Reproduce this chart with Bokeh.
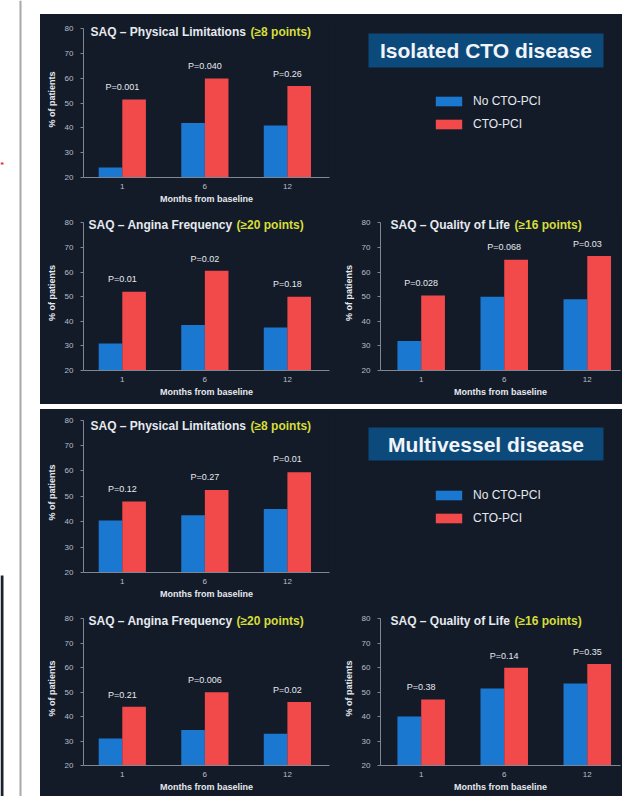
from bokeh.plotting import figure
from bokeh.layouts import row, column
from bokeh.models import (Range1d, FixedTicker, Label, Legend, LegendItem,
                          BoxAnnotation, Span, Spacer, ColumnDataSource)
from bokeh.transform import dodge
from bokeh.embed import file_html
from bokeh.resources import INLINE
from bokeh.core.properties import value

# ---------------- data ----------------
months = ["1", "6", "12"]
legend_labels = ["No CTO-PCI", "CTO-PCI"]
panel_titles = ["Isolated CTO disease", "Multivessel disease"]
chart_titles = ["SAQ \u2013 Physical Limitations", "SAQ \u2013 Angina Frequency", "SAQ \u2013 Quality of Life"]
chart_thresholds = ["(\u22658 points)", "(\u226520 points)", "(\u226516 points)"]
y_ticks = [20, 30, 40, 50, 60, 70, 80]
x_axis_label = "Months from baseline"
y_axis_label = "% of patients"

# Isolated CTO disease
iso_pl_no = [24, 42, 41]
iso_pl_cto = [51.5, 60, 57]
iso_pl_p = ["P=0.001", "P=0.040", "P=0.26"]
iso_af_no = [31, 38.5, 37.5]
iso_af_cto = [52, 60.5, 50]
iso_af_p = ["P=0.01", "P=0.02", "P=0.18"]
iso_qol_no = [32, 50, 49]
iso_qol_cto = [50.5, 65, 66.5]
iso_qol_p = ["P=0.028", "P=0.068", "P=0.03"]

# Multivessel disease
mv_pl_no = [40.5, 42.5, 45]
mv_pl_cto = [48, 52.5, 59.5]
mv_pl_p = ["P=0.12", "P=0.27", "P=0.01"]
mv_af_no = [31, 34.5, 33]
mv_af_cto = [44, 50, 46]
mv_af_p = ["P=0.21", "P=0.006", "P=0.02"]
mv_qol_no = [40, 51.5, 53.5]
mv_qol_cto = [47, 60, 61.5]
mv_qol_p = ["P=0.38", "P=0.14", "P=0.35"]

# ---------------- style ----------------
BG = "#131b29"
BLUE = "#1b78d0"
RED = "#f24a4a"
YELLOW = "#d6de3a"
AXIS = "#7e8794"
TXT = "#e6e9ee"
TICK = "#b9bec7"
BOX = "#0c4a7c"
FONT = "Liberation Sans"
Y_LO, Y_HI = 20, 83


def make_chart(no, cto, pv, t, w, h, bl, br, bt, bb, xs, xe, tdx, ydx, tdy):
    p = figure(width=w, height=h, x_range=Range1d(xs, xe), y_range=Range1d(Y_LO, Y_HI),
               min_border_left=bl, min_border_right=br, min_border_top=bt, min_border_bottom=bb,
               toolbar_location=None, output_backend="svg",
               background_fill_color=BG, border_fill_color=None, outline_line_color=None,
               styles={"background-color": BG})
    src = ColumnDataSource(dict(x=list(range(len(months))), no=no, cto=cto, pv=pv,
                                py=[max(a, b) + 5 for a, b in zip(no, cto)]))
    p.vbar(x=dodge("x", -0.143), top="no", bottom=Y_LO, width=0.286,
           source=src, fill_color=BLUE, line_color=None)
    p.vbar(x=dodge("x", 0.143), top="cto", bottom=Y_LO, width=0.286,
           source=src, fill_color=RED, line_color=None)
    p.text(x="x", y="py", text="pv", source=src, text_align="center", text_baseline="middle",
           text_font=value(FONT), text_font_size="9px", text_color=TXT)
    p.grid.visible = False
    for ax in (p.xaxis, p.yaxis):
        ax.axis_line_color = AXIS
        ax.axis_line_width = 1
        ax.minor_tick_line_color = None
        ax.major_label_text_font = FONT
        ax.major_label_text_color = TICK
        ax.major_label_text_font_size = "8px"
        ax.axis_label_text_font = FONT
        ax.axis_label_text_font_style = "bold"
        ax.axis_label_text_font_size = "9px"
        ax.axis_label_text_color = TXT
    p.xaxis.ticker = FixedTicker(ticks=list(range(len(months))))
    p.xaxis.major_label_overrides = {i: m for i, m in enumerate(months)}
    p.xaxis.major_tick_line_color = None
    p.xaxis.major_tick_out = 0
    p.xaxis.major_tick_in = 0
    p.xaxis.major_label_standoff = 6
    p.xaxis.axis_label = x_axis_label
    p.xaxis.axis_label_standoff = 2
    p.yaxis.ticker = FixedTicker(ticks=y_ticks)
    p.yaxis.bounds = (y_ticks[0], y_ticks[-1])
    p.yaxis.major_tick_line_color = AXIS
    p.yaxis.major_tick_out = 3
    p.yaxis.major_tick_in = 0
    p.yaxis.major_label_standoff = 7
    p.yaxis.axis_label = y_axis_label
    p.yaxis.axis_label_standoff = 5
    p.add_layout(Label(x=xs, y=y_ticks[-1], x_offset=tdx, y_offset=tdy, text=chart_titles[t],
                       text_baseline="middle", text_font=FONT, text_font_style="bold",
                       text_font_size="12px", text_color=TXT))
    p.add_layout(Label(x=xs, y=y_ticks[-1], x_offset=ydx, y_offset=tdy, text=chart_thresholds[t],
                       text_baseline="middle", text_font=FONT, text_font_style="bold",
                       text_font_size="12px", text_color=YELLOW))
    return p, src


def make_side(k, src, w, h, bt, bb, box_top, box_bottom, leg_y):
    # frame is aligned with the neighbouring chart; y data = pixels above the frame bottom
    fh = h - bt - bb
    p = figure(width=w, height=h, x_range=Range1d(0, w), y_range=Range1d(0, fh),
               x_axis_location=None, y_axis_location=None,
               min_border_left=0, min_border_right=0, min_border_top=bt, min_border_bottom=bb,
               toolbar_location=None, output_backend="svg",
               background_fill_color=BG, border_fill_color=None, outline_line_color=None,
               styles={"background-color": BG})
    p.grid.visible = False
    p.add_layout(BoxAnnotation(left=33, right=268, top=fh - box_top, bottom=fh - box_bottom,
                               fill_color=BOX, fill_alpha=1, line_color=None))
    p.add_layout(Label(x=150.5, y=fh - (box_top + box_bottom) / 2, text=panel_titles[k],
                       text_align="center", text_baseline="middle", text_font=FONT,
                       text_font_style="bold", text_font_size="21px", text_color="#f2f4f7"))
    # legend-only renderers (hidden; they share the chart's data)
    r_no = p.vbar(x="x", top="no", bottom=Y_LO, width=0.286, source=src,
                  fill_color=BLUE, line_color=None, visible=False)
    r_cto = p.vbar(x="x", top="cto", bottom=Y_LO, width=0.286, source=src,
                   fill_color=RED, line_color=None, visible=False)
    leg = Legend(items=[LegendItem(label=legend_labels[0], renderers=[r_no]),
                        LegendItem(label=legend_labels[1], renderers=[r_cto])],
                 location=(97, leg_y), orientation="vertical",
                 glyph_width=33, glyph_height=12, label_height=12, label_standoff=8,
                 spacing=9, padding=0, margin=0, border_line_color=None,
                 background_fill_alpha=0, label_text_font=FONT,
                 label_text_font_size="12px", label_text_color=TXT)
    p.add_layout(leg)
    return p


XS, XE = -0.47, 2.51
QS, QE = -0.49, 2.40

# Panel 1: isolated CTO
pl1, s1 = make_chart(iso_pl_no, iso_pl_cto, iso_pl_p, 0, 295, 196, 43, 6, 7, 33, XS, XE, 7, 167, -3)
side1 = make_side(0, s1, 287, 196, 7, 33, 12, 46, 46)
af1, _ = make_chart(iso_af_no, iso_af_cto, iso_af_p, 1, 295, 194, 43, 6, 5, 34, XS, XE, 5, 153, -2)
qol1, _ = make_chart(iso_qol_no, iso_qol_cto, iso_qol_p, 2, 287, 194, 45, 2, 5, 34, QS, QE, 10, 134, -2)

# Panel 2: multivessel
pl2, s2 = make_chart(mv_pl_no, mv_pl_cto, mv_pl_p, 0, 295, 199, 43, 6, 3, 36, XS, XE, 7, 167, -6)
side2 = make_side(1, s2, 287, 199, 3, 36, 15, 48, 47)
af2, _ = make_chart(mv_af_no, mv_af_cto, mv_af_p, 1, 295, 188, 43, 6, 3, 31, XS, XE, 5, 153, -2)
qol2, _ = make_chart(mv_qol_no, mv_qol_cto, mv_qol_p, 2, 287, 188, 45, 2, 3, 31, QS, QE, 10, 134, -2)

# left page strip with the binding line
left = figure(width=40, height=796, x_range=Range1d(0, 40), y_range=Range1d(0, 796),
              x_axis_location=None, y_axis_location=None, min_border=0,
              toolbar_location=None, output_backend="svg",
              background_fill_color=None, border_fill_color=None, outline_line_color=None)
left.grid.visible = False
left.add_layout(Span(location=20, dimension="height", line_color="#a8a8a8", line_width=2))
left.add_layout(BoxAnnotation(left=0, right=3, bottom=0, top=221, fill_color="#1a2230",
                              fill_alpha=1, line_color=None))
left.add_layout(BoxAnnotation(left=0, right=3, bottom=632, top=634, fill_color="#e03040",
                              fill_alpha=1, line_color=None))

panels = column(
    Spacer(width=582, height=14),
    row(pl1, side1),
    row(af1, qol1),
    Spacer(width=582, height=5),
    row(pl2, side2),
    row(af2, qol2),
)
layout = row(left, panels)

with open("out.html", "w") as f:
    f.write(file_html(layout, INLINE))
